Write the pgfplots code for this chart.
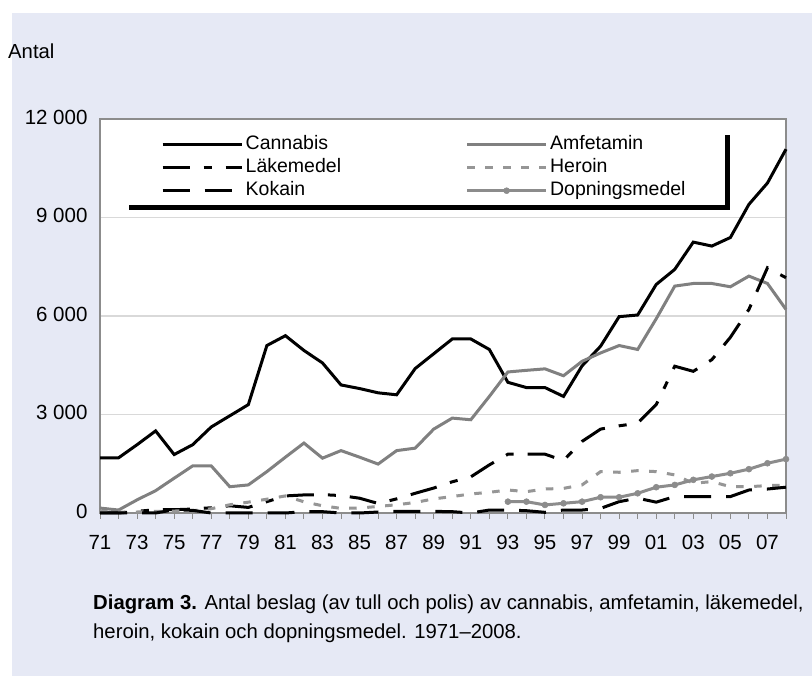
\documentclass[border=0pt]{standalone}
\usepackage{pgfplots}
\pgfplotsset{compat=1.18}
\usepackage{pgfplotstable}
\usepackage{fontspec}
\setmainfont{Liberation Sans}
\definecolor{panel}{RGB}{230,233,245}
\definecolor{axisgray}{RGB}{140,140,140}
\definecolor{gridgray}{RGB}{217,217,217}
\definecolor{amfgray}{RGB}{128,128,128}
\definecolor{hergray}{RGB}{150,150,150}
\definecolor{dopgray}{RGB}{140,140,140}
\newcommand\fs{\fontsize{19.5pt}{23pt}\selectfont}
\newcommand\fc{\fontsize{20.3pt}{24pt}\selectfont}
\newcommand\ft{\fontsize{20.5pt}{24pt}\selectfont}

\pgfplotstableread{
year cannabis amfetamin lakemedel heroin kokain
1971 1680 150 0 50 0
1972 1680 90 0 30 0
1973 2080 400 50 30 0
1974 2500 680 100 50 0
1975 1780 1060 100 60 100
1976 2080 1435 120 70 80
1977 2620 1435 160 130 0
1978 2960 800 220 250 0
1979 3300 855 170 330 0
1980 5100 1260 345 420 0
1981 5400 1700 520 520 0
1982 4950 2130 550 340 40
1983 4570 1670 560 220 40
1984 3900 1900 530 140 0
1985 3790 1700 450 150 0
1986 3660 1490 290 200 30
1987 3600 1900 430 250 50
1988 4400 1975 600 320 50
1989 4850 2555 760 430 50
1990 5300 2890 950 500 40
1991 5300 2840 1100 580 0
1992 4980 3550 1465 630 90
1993 3980 4295 1790 700 90
1994 3820 4345 1790 650 70
1995 3820 4390 1790 730 20
1996 3550 4180 1600 750 90
1997 4480 4620 2180 855 90
1998 5080 4875 2555 1260 140
1999 5980 5100 2655 1240 345
2000 6030 4980 2735 1290 450
2001 6960 5915 3300 1260 330
2002 7420 6910 4470 1160 500
2003 8250 6990 4315 905 500
2004 8130 6990 4670 955 500
2005 8390 6890 5350 800 500
2006 9400 7215 6200 800 700
2007 10050 6990 7470 835 730
2008 11080 6200 7165 850 785
}\drugs

\pgfplotstableread{
year dopning
1993 345
1994 345
1995 245
1996 295
1997 345
1998 480
1999 480
2000 600
2001 785
2002 855
2003 1010
2004 1110
2005 1210
2006 1335
2007 1515
2008 1640
}\doping

\begin{document}
\begin{tikzpicture}
\path[use as bounding box] (0,0) rectangle (812pt,676pt);
\fill[white] (0,0) rectangle (812pt,676pt);
\fill[panel] (12pt,0) rectangle (812pt,663pt);
\node[anchor=base west, font=\fc, inner sep=0pt] at (8pt,617.7pt) {Antal};
\node[anchor=base west, font=\fc, inner sep=0pt] at (93pt,66pt) {\textbf{Diagram 3.} Antal beslag (av tull och polis) av cannabis, amfetamin, läkemedel,};
\node[anchor=base west, font=\fc, inner sep=0pt] at (93pt,37.7pt) {heroin, kokain och dopningsmedel. 1971–2008.};
\begin{axis}[
  at={(100pt,163pt)}, anchor=south west,
  scale only axis, width=686pt, height=394pt,
  xmin=1971, xmax=2008, ymin=0, ymax=12000,
  clip=false,
  scaled y ticks=false,
  axis background/.style={fill=white},
  axis line style={draw=axisgray, line width=2pt},
  xtick={1971,1973,...,2007},
  xticklabels={71,73,75,77,79,81,83,85,87,89,91,93,95,97,99,01,03,05,07},
  minor xtick={1972,1974,...,2008},
  xtick pos=bottom, ytick pos=left,
  tick align=outside,
  major tick length=6pt, minor tick length=6pt,
  xtick style={draw=axisgray, line width=1pt},
  minor tick style={draw=axisgray, line width=1pt},
  ytick={0,3000,6000,9000,12000},
  yticklabels={0,3~000,6~000,9~000,12~000},
  ytick style={draw=none},
  ymajorgrids, grid style={draw=gridgray, line width=1.5pt},
  tick label style={font=\ft},
  /pgf/number format/assume math mode=true,
  yticklabel style={anchor=east, xshift=-3pt, yshift=2pt},
  xticklabel style={anchor=north, yshift=-13pt},
  legend columns=2,
  legend cell align=left,
  legend style={name=leg, at={(rel axis cs:0.035,0.972)}, anchor=north west,
    draw=none, fill=white,
    inner xsep=37pt, inner ysep=3pt, row sep=0pt, font=\fs,
    nodes={text height=14pt, text depth=4pt, inner sep=2.5pt},
    /tikz/every even column/.append style={column sep=122pt}},
  legend image code/.code={\draw[mark repeat=2, mark phase=2, #1] plot coordinates {(0pt,0pt) (39.5pt,0pt) (79pt,0pt)};},
]
\addplot[black, line width=3pt] table[x=year, y=cannabis] {\drugs};
\addlegendentry{Cannabis}
\addplot[amfgray, line width=3pt] table[x=year, y=amfetamin] {\drugs};
\addlegendentry{Amfetamin}
\addplot[black, line width=3pt, dash pattern=on 27pt off 14pt on 8pt off 14pt] table[x=year, y=lakemedel] {\drugs};
\addlegendentry{Läkemedel}
\addplot[hergray, line width=3pt, dash pattern=on 7.5pt off 10.5pt] table[x=year, y=heroin] {\drugs};
\addlegendentry{Heroin}
\addplot[black, line width=3pt, dash pattern=on 27pt off 15pt] table[x=year, y=kokain] {\drugs};
\addlegendentry{Kokain}
\addplot[dopgray, line width=3pt, mark=*, mark size=3pt, mark options={solid, fill=dopgray, draw=dopgray, line width=0.5pt}] table[x=year, y=dopning] {\doping};
\addlegendentry{Dopningsmedel}
\end{axis}
% legend shadow (right and bottom bars)
\fill[black] ([xshift=5pt,yshift=-5pt]leg.south west) rectangle ([xshift=5pt]leg.south east);
\fill[black] ([yshift=-5pt]leg.north east) rectangle ([xshift=5pt,yshift=-5pt]leg.south east);
\end{tikzpicture}
\end{document}
